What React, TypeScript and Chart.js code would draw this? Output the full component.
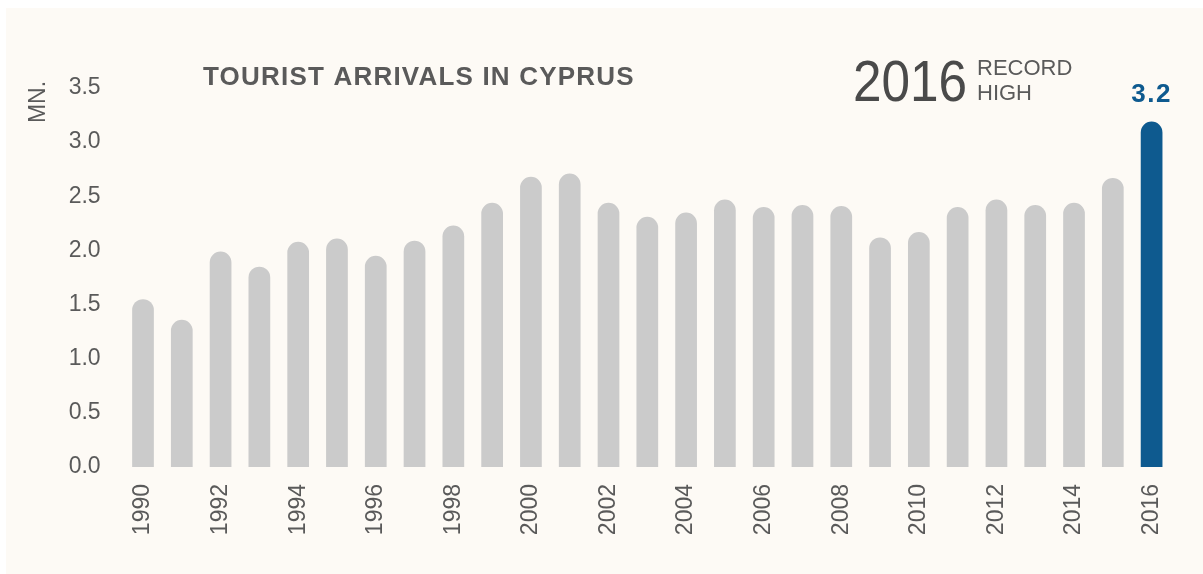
import React, { useEffect, useRef } from "react";
import { Chart, registerables } from "chart.js";

Chart.register(...registerables);

const years = [
  "1990", "1991", "1992", "1993", "1994", "1995", "1996", "1997", "1998",
  "1999", "2000", "2001", "2002", "2003", "2004", "2005", "2006", "2007",
  "2008", "2009", "2010", "2011", "2012", "2013", "2014", "2015", "2016",
];
const arrivals = [
  1.55, 1.36, 1.99, 1.85, 2.08, 2.11, 1.95, 2.09, 2.23,
  2.44, 2.68, 2.71, 2.44, 2.31, 2.35, 2.47, 2.40, 2.42,
  2.41, 2.12, 2.17, 2.40, 2.47, 2.42, 2.44, 2.67, 3.19,
];
const yMin = 0;
const yMax = 3.5;
const yStep = 0.5;
const titleText = "TOURIST ARRIVALS IN CYPRUS";
const unitText = "MN.";
const recordYear = "2016";
const recordLines = ["RECORD", "HIGH"];
const highlightText = "3.2";

const GRAY = "#cbcbcb";
const BLUE = "#0e5a8f";
const TEXT = "#5a5a5a";
const FONT = "'Liberation Sans', Arial, Helvetica, sans-serif";

const overlayPlugin = {
  id: "overlayTexts",
  afterDraw(chart: any) {
    const ctx = chart.ctx as CanvasRenderingContext2D;
    ctx.save();
    // unit label
    ctx.fillStyle = TEXT;
    ctx.font = `23px ${FONT}`;
    ctx.textAlign = "center";
    ctx.textBaseline = "middle";
    ctx.save();
    ctx.translate(33, 94);
    ctx.rotate(-Math.PI / 2);
    ctx.fillText(unitText, 0, 0);
    ctx.restore();

    // title
    ctx.font = `bold 26px ${FONT}`;
    ctx.textAlign = "left";
    ctx.textBaseline = "alphabetic";
    (ctx as any).letterSpacing = "1.2px";
    ctx.fillText(titleText, 197, 77);
    (ctx as any).letterSpacing = "0px";

    // record year
    ctx.save();
    ctx.translate(847, 93);
    ctx.scale(0.9, 1);
    ctx.font = `300 57px ${FONT}`;
    ctx.fillStyle = "#4a4a4a";
    ctx.fillText(recordYear, 0, 0);
    ctx.restore();

    ctx.font = `22px ${FONT}`;
    ctx.fillStyle = TEXT;
    ctx.fillText(recordLines[0], 971, 67);
    ctx.fillText(recordLines[1], 971, 92);

    // highlight value over last bar
    const meta = chart.getDatasetMeta(0);
    const last = meta.data[meta.data.length - 1];
    ctx.font = `bold 26px ${FONT}`;
    ctx.fillStyle = BLUE;
    ctx.textAlign = "center";
    (ctx as any).letterSpacing = "1.5px";
    ctx.fillText(highlightText, last.x, 94);
    ctx.restore();
  },
};

export default function App() {
  const canvasRef = useRef<HTMLCanvasElement | null>(null);

  useEffect(() => {
    if (!canvasRef.current) return;
    const colors = arrivals.map((_, i) => (i === arrivals.length - 1 ? BLUE : GRAY));
    const chart = new Chart(canvasRef.current, {
      type: "bar",
      data: {
        labels: years,
        datasets: [
          {
            data: arrivals,
            backgroundColor: colors,
            borderRadius: 20,
            borderSkipped: "start",
            barPercentage: 0.56,
            categoryPercentage: 1,
          },
        ],
      },
      options: {
        animation: false,
        responsive: false,
        maintainAspectRatio: false,
        layout: { padding: { top: 80, right: 32, left: 0, bottom: 0 } },
        plugins: {
          legend: { display: false },
          tooltip: { enabled: false },
          title: { display: false },
        },
        scales: {
          x: {
            grid: { display: false, drawTicks: false },
            border: { display: false },
            afterFit(scale: any) {
              scale.height = 107;
            },
            ticks: {
              autoSkip: false,
              minRotation: 90,
              maxRotation: 90,
              padding: 17,
              color: TEXT,
              font: { size: 23, family: FONT },
              callback: (_v: any, i: number) => (i % 2 === 0 ? years[i] : ""),
            },
          },
          y: {
            min: yMin,
            max: yMax,
            grid: { display: false, drawTicks: false },
            border: { display: false },
            afterFit(scale: any) {
              scale.width = 117.6;
            },
            ticks: {
              stepSize: yStep,
              padding: 23,
              color: TEXT,
              font: { size: 23, family: FONT },
              callback: (v: any) => Number(v).toFixed(1),
            },
          },
        },
      },
      plugins: [overlayPlugin],
    });
    return () => chart.destroy();
  }, []);

  return (
    <div
      style={{
        position: "absolute",
        left: 6,
        top: 8,
        width: 1197,
        height: 566,
        background: "#fdfaf5",
      }}
    >
      <canvas ref={canvasRef} width={1197} height={566} style={{ display: "block" }} />
    </div>
  );
}
